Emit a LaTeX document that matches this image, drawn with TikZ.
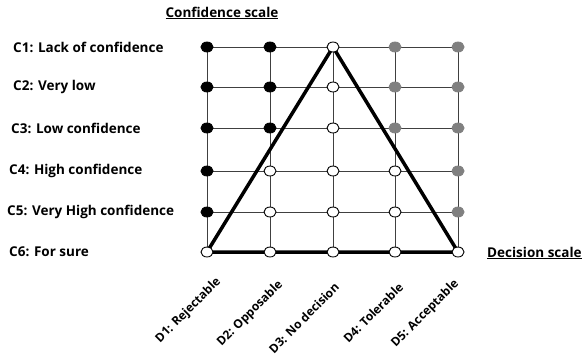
\documentclass[tikz,border=0pt]{standalone}
\usepackage{fontspec}
\setmainfont{Open Sans}
\usetikzlibrary{shapes.geometric,positioning}

\begin{document}
\begin{tikzpicture}[x=1pt, y=-1pt,
    dot/.style={ellipse, draw=black, line width=0.9pt, inner sep=0pt, minimum width=12pt, minimum height=10pt},
    bdot/.style={dot, fill=black},
    wdot/.style={dot, fill=white},
    gdot/.style={dot, fill=gray, draw=gray},
    grid/.style={black!75, line width=0.7pt},
    tri/.style={black, line width=3.5pt, line join=miter},
    lbl/.style={font=\bfseries\fontsize{13.5}{16}\selectfont, inner sep=0pt},
    dlbl/.style={lbl, font=\bfseries\fontsize{12}{14}\selectfont, anchor=east, rotate=45},
    head/.style={lbl, text depth=0pt}
]
    \useasboundingbox (0,0) rectangle (584,356);
    % Grid points
    \foreach \y [count=\r] in {47,87,128,171,212,252} {
        \foreach \x [count=\c] in {207,270,333,395,458} {
            \coordinate (p\r\c) at (\x,\y);
        }
    }
    % Grid
    \foreach \r in {1,...,6} \draw[grid] (p\r1) -- (p\r5);
    \foreach \c in {1,...,5} \draw[grid] (p1\c) -- (p6\c);
    % Triangle
    \draw[tri] (p61) -- (p13) -- (p65) -- cycle;
    % Dots (0 open, 1 black, 2 gray)
    \foreach \r/\pat in {1/{1,1,0,2,2}, 2/{1,1,0,2,2}, 3/{1,1,0,2,2}, 4/{1,0,0,0,2}, 5/{1,0,0,0,2}, 6/{0,0,0,0,0}} {
        \foreach \k [count=\c] in \pat {
            \ifcase\k \node[wdot] (d\r\c) at (p\r\c) {};
            \or \node[bdot] (d\r\c) at (p\r\c) {};
            \or \node[gdot] (d\r\c) at (p\r\c) {};
            \fi
        }
    }
    % Confidence scale
    \foreach \x/\t [count=\r] in {13/{C1: Lack of confidence}, 13/{C2: Very low}, 11/{C3: Low confidence},
        9/{C4: High confidence}, 7/{C5: Very High confidence}, 9/{C6: For sure}} {
        \node[lbl, anchor=west] (c\r) at (\x,0 |- p\r1) {\t};
    }
    % Decision scale
    \foreach \x/\y/\t [count=\c] in {219/280/{D1: Rejectable}, 281/283/{D2: Opposable}, 337/285/{D3: No decision},
        401/285/{D4: Tolerable}, 457/282/{D5: Acceptable}} {
        \node[dlbl] (dl\c) at (\x,\y) {\t};
    }
    % Titles
    \node[head] (conf) at (222,12) {\underline{Confidence scale}};
    \node[head, anchor=west] (dec) at (487,0 |- p65) {\underline{Decision scale}};
\end{tikzpicture}
\end{document}
